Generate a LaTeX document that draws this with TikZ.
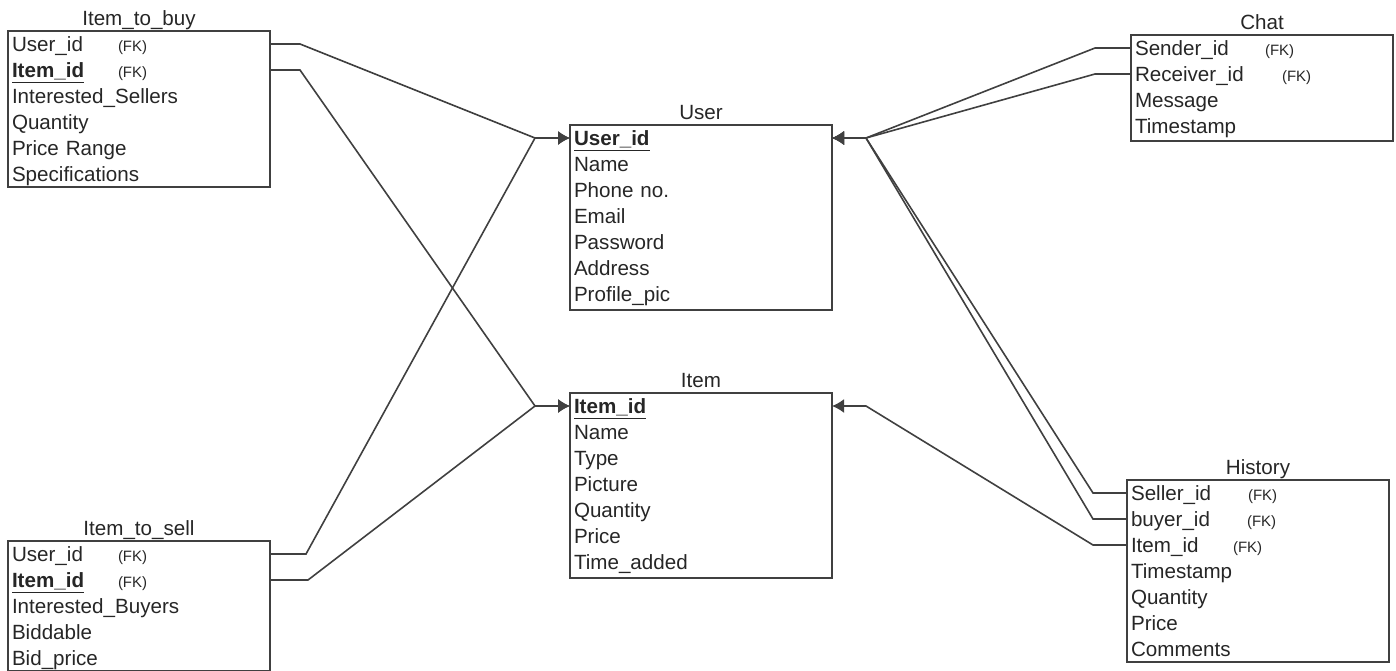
\documentclass[tikz,border=0pt]{standalone}
\usepackage{fontspec}
\setmainfont{Liberation Sans}
\usetikzlibrary{arrows.meta,positioning}

\newcommand{\fkey}[2]{\makebox[#1][l]{#2}{\fontsize{7.5}{8}\selectfont(FK)}}
\newcommand{\pkey}[1]{\underline{\textbf{#1}}}

\begin{document}
\begin{tikzpicture}[x=0.5pt,y=-0.5pt,
  field/.style={anchor=north west, text width=127pt, inner xsep=2pt, inner ysep=1pt,
    outer sep=0pt, text height=9pt, text depth=2pt, align=left,
    font=\fontsize{10.3}{12}\selectfont, text=black!85},
  tname/.style={anchor=base, inner sep=0pt, font=\fontsize{10.3}{12}\selectfont, text=black!85},
  tblframe/.style={draw=black!75, line width=0.8pt},
  fkline/.style={draw=black!75, line width=0.8pt, -{Latex[length=6pt,width=7pt]}}]
  \path[use as bounding box] (0,0) rectangle (1396,670);
  \clip (0,0) rectangle (1396,670);

  % Item_to_buy
  \node[field] (buy1) at (8,31) {\fkey{53pt}{User\_id}};
  \node[field, below=0pt of buy1] (buy2) {\fkey{53pt}{\pkey{Item\_id}}};
  \node[field, below=0pt of buy2] (buy3) {Interested\_Sellers};
  \node[field, below=0pt of buy3] (buy4) {Quantity};
  \node[field, below=0pt of buy4] (buy5) {Price Range};
  \node[field, below=0pt of buy5] (buy6) {Specifications};
  \draw[tblframe] (buy1.north west) rectangle (buy6.south east);
  \node[tname] at ([yshift=3pt]buy1.north) {Item\_to\_buy};

  % Item_to_sell
  \node[field] (sell1) at (8,541) {\fkey{53pt}{User\_id}};
  \node[field, below=0pt of sell1] (sell2) {\fkey{53pt}{\pkey{Item\_id}}};
  \node[field, below=0pt of sell2] (sell3) {Interested\_Buyers};
  \node[field, below=0pt of sell3] (sell4) {Biddable};
  \node[field, below=0pt of sell4] (sell5) {Bid\_price};
  \draw[tblframe] (sell1.north west) rectangle (sell5.south east);
  \node[tname] at ([yshift=3pt]sell1.north) {Item\_to\_sell};

  % User
  \node[field] (user1) at (570,125) {\pkey{User\_id}};
  \node[field, below=0pt of user1] (user2) {Name};
  \node[field, below=0pt of user2] (user3) {Phone no.};
  \node[field, below=0pt of user3] (user4) {Email};
  \node[field, below=0pt of user4] (user5) {Password};
  \node[field, below=0pt of user5] (user6) {Address};
  \node[field, below=0pt of user6] (user7) {Profile\_pic};
  \draw[tblframe] (user1.north west) rectangle ([yshift=-1.5pt]user7.south east);
  \node[tname] at ([yshift=3pt]user1.north) {User};

  % Item
  \node[field] (item1) at (570,393) {\pkey{Item\_id}};
  \node[field, below=0pt of item1] (item2) {Name};
  \node[field, below=0pt of item2] (item3) {Type};
  \node[field, below=0pt of item3] (item4) {Picture};
  \node[field, below=0pt of item4] (item5) {Quantity};
  \node[field, below=0pt of item5] (item6) {Price};
  \node[field, below=0pt of item6] (item7) {Time\_added};
  \draw[tblframe] (item1.north west) rectangle ([yshift=-1.5pt]item7.south east);
  \node[tname] at ([yshift=3pt]item1.north) {Item};

  % Chat
  \node[field] (chat1) at (1131,35) {\fkey{65pt}{Sender\_id}};
  \node[field, below=0pt of chat1] (chat2) {\fkey{73.5pt}{Receiver\_id}};
  \node[field, below=0pt of chat2] (chat3) {Message};
  \node[field, below=0pt of chat3] (chat4) {Timestamp};
  \draw[tblframe] (chat1.north west) rectangle ([yshift=-1pt]chat4.south east);
  \node[tname] at ([yshift=3pt]chat1.north) {Chat};

  % History
  \node[field] (hist1) at (1127,480) {\fkey{58.5pt}{Seller\_id}};
  \node[field, below=0pt of hist1] (hist2) {\fkey{58pt}{buyer\_id}};
  \node[field, below=0pt of hist2] (hist3) {\fkey{51pt}{Item\_id}};
  \node[field, below=0pt of hist3] (hist4) {Timestamp};
  \node[field, below=0pt of hist4] (hist5) {Quantity};
  \node[field, below=0pt of hist5] (hist6) {Price};
  \node[field, below=0pt of hist6] (hist7) {Comments};
  \draw[tblframe] (hist1.north west) rectangle (hist7.south east);
  \node[tname] at ([yshift=3pt]hist1.north) {History};

  % where the links meet
  \coordinate (uL) at (535,138);
  \coordinate (uR) at (866,138);
  \coordinate (iL) at (535,406);
  \coordinate (iR) at (866,406);

  \draw[fkline] (buy1.east) -- ++(30,0) -- (uL) -- (user1.west);
  \draw[fkline] (buy2.east) -- ++(30,0) -- (iL) -- (item1.west);
  \draw[fkline] (sell1.east) -- ++(36,0) -- (uL) -- (user1.west);
  \draw[fkline] (sell2.east) -- ++(38,0) -- (iL) -- (item1.west);

  \draw[fkline] (chat1.west) -- ++(-36,0) -- (uR) -- (user1.east);
  \draw[fkline] (chat2.west) -- ++(-36,0) -- (uR) -- (user1.east);
  \draw[fkline] (hist1.west) -- ++(-34,0) -- (uR) -- (user1.east);
  \draw[fkline] (hist2.west) -- ++(-34,0) -- (uR) -- (user1.east);
  \draw[fkline] (hist3.west) -- ++(-34,0) -- (iR) -- (item1.east);
\end{tikzpicture}
\end{document}
